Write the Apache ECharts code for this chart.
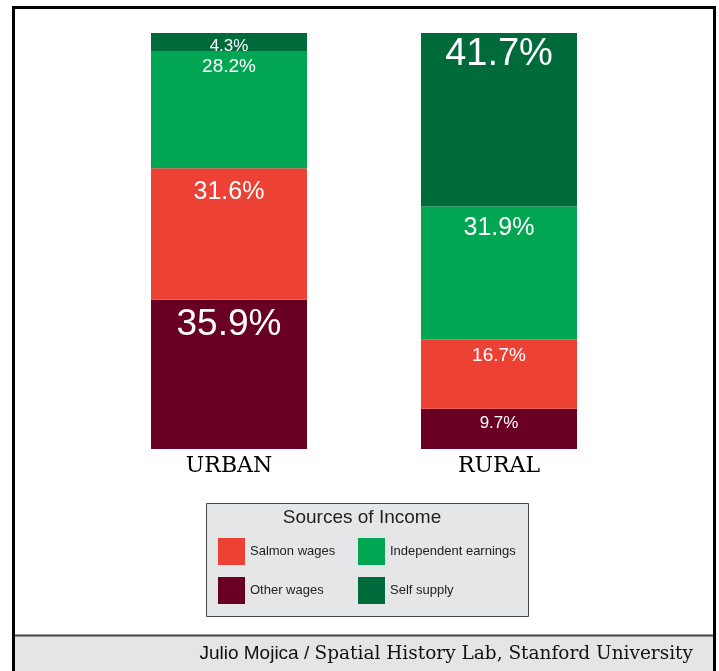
<!DOCTYPE html>
<html>
<head>
<meta charset="utf-8">
<script src="https://cdn.jsdelivr.net/npm/echarts@6/dist/echarts.min.js"></script>
<style>
html,body{margin:0;padding:0;background:#fff;}
#chart{width:719px;height:671px;}
</style>
</head>
<body>
<div id="chart"></div>
<script>
// ---- data ----
const categories = ['URBAN', 'RURAL'];
const otherWages = [35.9, 9.7];
const salmonWages = [31.6, 16.7];
const independentEarnings = [28.2, 31.9];
const selfSupply = [4.3, 41.7];
const legendTitle = 'Sources of Income';
const creditAuthor = 'Julio Mojica / ';
const creditLab = 'Spatial History Lab, Stanford University';

// ---- styling ----
const colors = {
  other: '#690024',
  salmon: '#ee4136',
  indep: '#00a651',
  self: '#006b3a'
};
// label font size and distance from segment top, per [urban, rural]
const labelStyle = {
  other: [[37, 6.5], [17, 6.5]],
  salmon: [[25, 11.5], [19, 7]],
  indep: [[19, 6.5], [25, 9.5]],
  self: [[17, 4.5], [38, 3]]
};
const sans = '"Liberation Sans", Arial, sans-serif';
const slab = '"DejaVu Serif", serif';

function makeData(values, key) {
  return values.map((v, i) => ({
    value: v,
    label: {
      fontSize: labelStyle[key][i][0],
      lineHeight: labelStyle[key][i][0],
      distance: labelStyle[key][i][1]
    }
  }));
}

function series(name, values, key) {
  return {
    name: name,
    type: 'bar',
    stack: 'total',
    barWidth: 156,
    itemStyle: { color: colors[key] },
    label: {
      show: true,
      position: 'insideTop',
      color: '#ffffff',
      fontFamily: sans,
      formatter: p => p.value.toFixed(1) + '%'
    },
    emphasis: { disabled: true },
    data: makeData(values, key)
  };
}

const chart = echarts.init(document.getElementById('chart'));
chart.setOption({
  animation: false,
  backgroundColor: '#ffffff',
  grid: { left: 94, right: 85, top: 33, bottom: 222 },
  xAxis: {
    type: 'category',
    data: categories,
    axisLine: { show: false },
    axisTick: { show: false },
    axisLabel: {
      margin: 6,
      color: '#000',
      fontFamily: slab,
      fontSize: 22
    }
  },
  yAxis: {
    type: 'value', min: 0, max: 100, show: false
  },
  legend: [
    {
      data: ['Salmon wages', 'Other wages'],
      orient: 'vertical', left: 218, top: 538, padding: 0,
      itemWidth: 27, itemHeight: 27, itemGap: 12, icon: 'rect',
      selectedMode: false,
      textStyle: { fontFamily: sans, fontSize: 13, color: '#222' }
    },
    {
      data: ['Independent earnings', 'Self supply'],
      orient: 'vertical', left: 358, top: 538, padding: 0,
      itemWidth: 27, itemHeight: 27, itemGap: 12, icon: 'rect',
      selectedMode: false,
      textStyle: { fontFamily: sans, fontSize: 13, color: '#222' }
    }
  ],
  graphic: [
    { type: 'rect', z: -1, shape: { x: 206.5, y: 503.5, width: 322, height: 113 },
      style: { fill: '#e5e6e8', stroke: '#444', lineWidth: 1 } },
    { type: 'text', x: 362, y: 518,
      style: { text: legendTitle, fill: '#222', font: '19px ' + sans, textAlign: 'center', textVerticalAlign: 'middle' } },
    { type: 'rect', shape: { x: 15, y: 636, width: 698, height: 40 },
      style: { fill: '#e4e5e7' } },
    { type: 'line', shape: { x1: 15, y1: 635.5, x2: 713, y2: 635.5 },
      style: { stroke: '#444', lineWidth: 2 } },
    { type: 'rect', shape: { x: 13.5, y: 7.5, width: 701, height: 700 },
      style: { fill: 'none', stroke: '#000', lineWidth: 3 } },
    { type: 'text', x: 693, y: 654,
      style: {
        text: '{a|' + creditAuthor + '}{b|' + creditLab + '}',
        align: 'right', verticalAlign: 'middle',
        rich: {
          a: { fontFamily: sans, fontSize: 19, fill: '#111', color: '#111' },
          b: { fontFamily: slab, fontSize: 18.5, fill: '#111', color: '#111' }
        }
      } }
  ],
  series: [
    series('Other wages', otherWages, 'other'),
    series('Salmon wages', salmonWages, 'salmon'),
    series('Independent earnings', independentEarnings, 'indep'),
    series('Self supply', selfSupply, 'self')
  ]
});
</script>
</body>
</html>
